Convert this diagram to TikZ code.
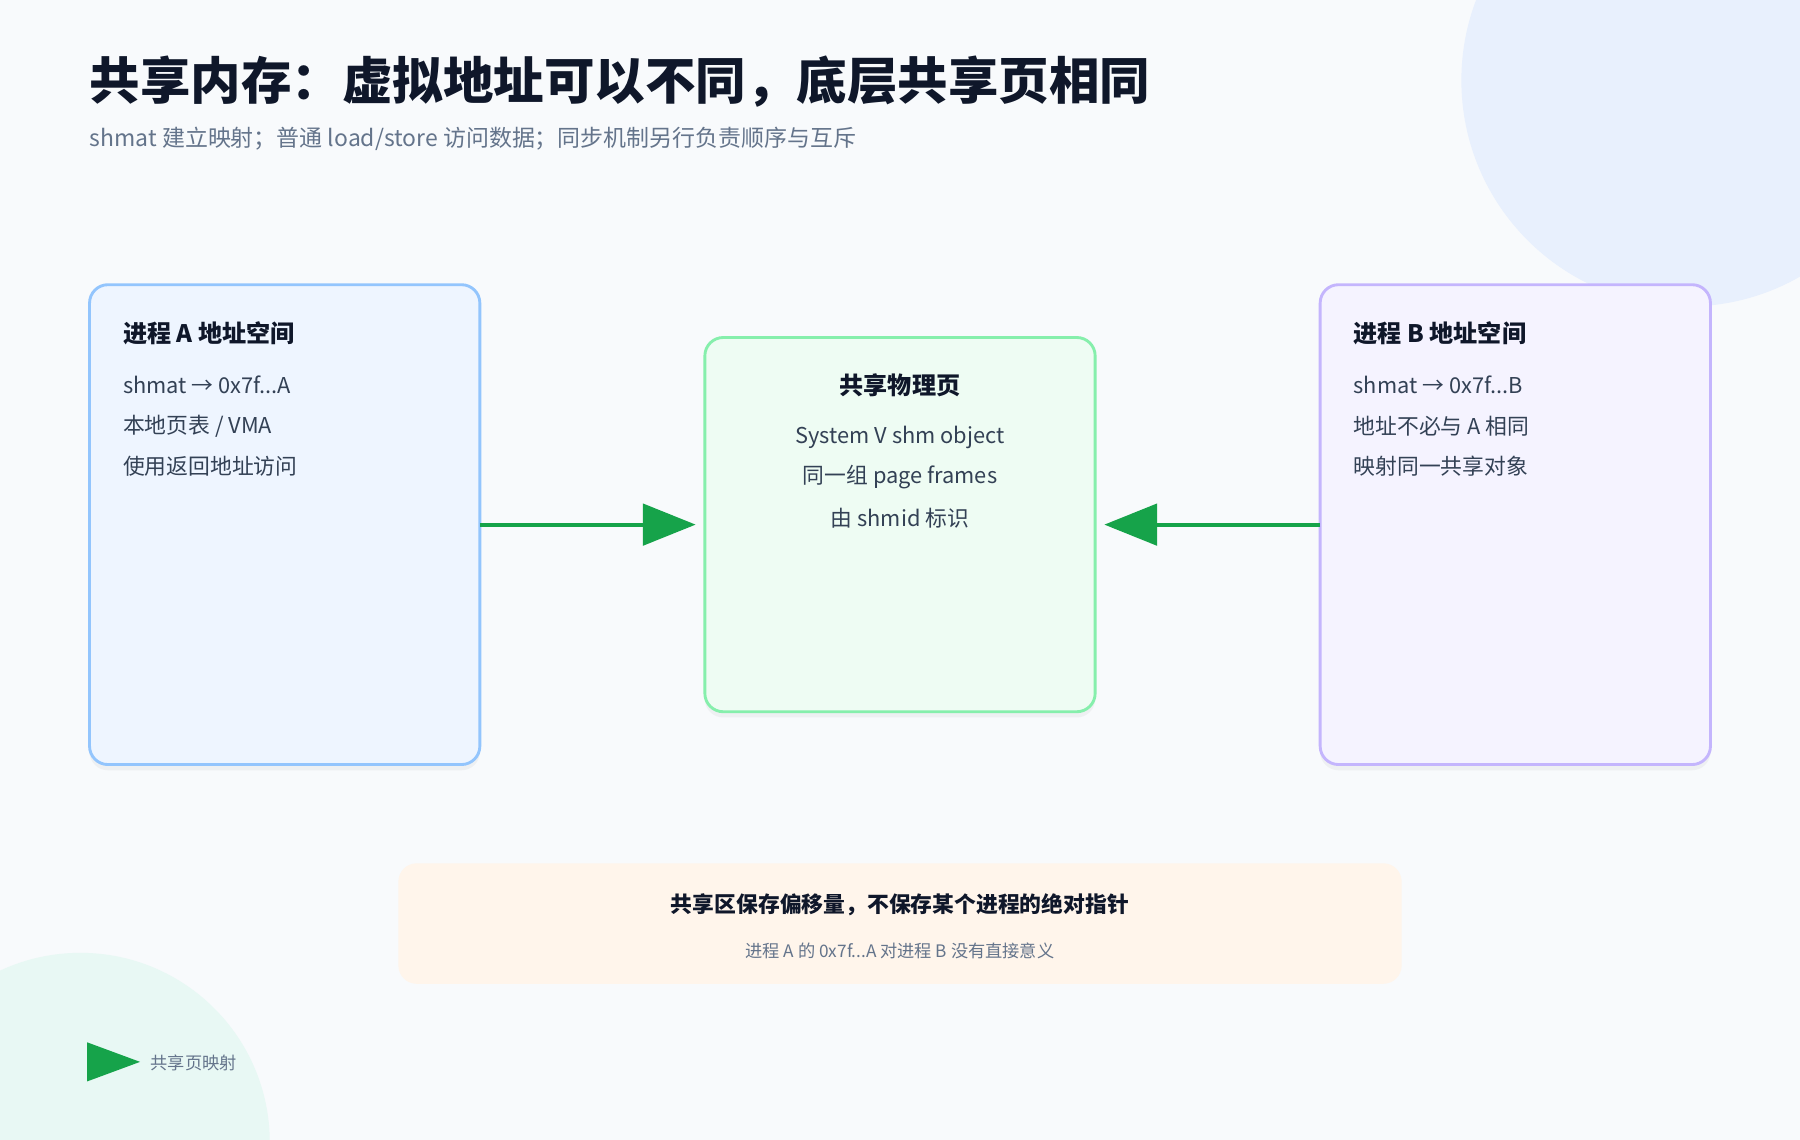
\documentclass[tikz,border=0pt]{standalone}
\usepackage{fontspec}
\setmainfont{Noto Sans CJK SC}
\usetikzlibrary{arrows.meta,shadows}
\definecolor{bg}{HTML}{F8FAFC}
\definecolor{ink}{HTML}{0F172A}
\definecolor{body}{HTML}{334155}
\definecolor{muted}{HTML}{64748B}
\definecolor{grn}{HTML}{16A34A}
\definecolor{circB}{HTML}{E8F0FD}
\definecolor{circG}{HTML}{E8F8F4}
\definecolor{aD}{HTML}{93C5FD}\definecolor{aF}{HTML}{EEF5FF}
\definecolor{cD}{HTML}{86EFAC}\definecolor{cF}{HTML}{EEFCF3}
\definecolor{bD}{HTML}{C4B5FD}\definecolor{bF}{HTML}{F5F3FF}
\definecolor{nF}{HTML}{FFF5EB}
\begin{document}
\begin{tikzpicture}[x=1pt,y=-1pt,
  box/.style={rounded corners=16pt,line width=2.5pt,drop shadow={opacity=0.08,shadow xshift=0pt,shadow yshift=-5pt}},
  btitle/.style={anchor=west,font=\fontsize{21}{25}\selectfont\bfseries,text=ink,inner sep=0},
  bline/.style={anchor=west,font=\fontsize{19}{23}\selectfont,text=body,inner sep=0},
  cline/.style={font=\fontsize{19}{23}\selectfont,text=body,inner sep=0},
  conn/.style={grn,line width=3.5pt,-{Triangle[length=46pt,width=36pt]}}]
\useasboundingbox (0,0) rectangle (1568,993);
\fill[bg] (0,0) rectangle (1568,993);
\begin{scope}
\clip (0,0) rectangle (1568,993);
\fill[circB] (1470,70) circle (197);
\fill[circG] (70,995) circle (165);
\end{scope}
\node[anchor=west,inner sep=0,font=\fontsize{44}{50}\selectfont\bfseries,text=ink] (title) at (78,71) {共享内存：虚拟地址可以不同，底层共享页相同};
\node[anchor=west,inner sep=0,font=\fontsize{20}{24}\selectfont,text=muted] (sub) at (78,121) {shmat 建立映射；普通 load/store 访问数据；同步机制另行负责顺序与互斥};
\draw[box,draw=aD,fill=aF] (78,248) rectangle (418,666);
\coordinate (A) at (418,457);
\draw[box,draw=cD,fill=cF] (614,294) rectangle (954,620);
\coordinate (Cl) at (606,457);
\coordinate (Cr) at (962,457);
\draw[box,draw=bD,fill=bF] (1150,248) rectangle (1490,666);
\coordinate (B) at (1150,457);
\node[btitle] (at) at (107,290) {进程 A 地址空间};
\node[bline] (a1) at (107,335) {shmat → 0x7f...A};
\node[bline] (a2) at (107,371) {本地页表 / VMA};
\node[bline] (a3) at (107,406) {使用返回地址访问};
\node[font=\fontsize{21}{25}\selectfont\bfseries,text=ink,inner sep=0] (ct) at (784,336) {共享物理页};
\node[cline] (c1) at (784,381) {System V shm object};
\node[cline] (c2) at (784,416) {同一组 page frames};
\node[cline] (c3) at (784,451) {由 shmid 标识};
\node[btitle] (bt) at (1179,290) {进程 B 地址空间};
\node[bline] (b1) at (1179,335) {shmat → 0x7f...B};
\node[bline] (b2) at (1179,371) {地址不必与 A 相同};
\node[bline] (b3) at (1179,406) {映射同一共享对象};
\draw[conn] (A) -- (Cl);
\draw[conn] (B) -- (Cr);
\fill[nF,rounded corners=16pt] (347,752) rectangle (1221,857);
\node[font=\fontsize{19}{23}\selectfont\bfseries,text=ink,inner sep=0] (n1) at (784,788) {共享区保存偏移量，不保存某个进程的绝对指针};
\node[font=\fontsize{15}{18}\selectfont,text=muted,inner sep=0] (n2) at (784,828) {进程 A 的 0x7f...A 对进程 B 没有直接意义};
\fill[grn] (76,908) -- (122,925) -- (76,942) -- cycle;
\node[anchor=west,inner sep=0,font=\fontsize{15}{18}\selectfont,text=muted] (leg) at (131,926) {共享页映射};
\end{tikzpicture}
\end{document}
